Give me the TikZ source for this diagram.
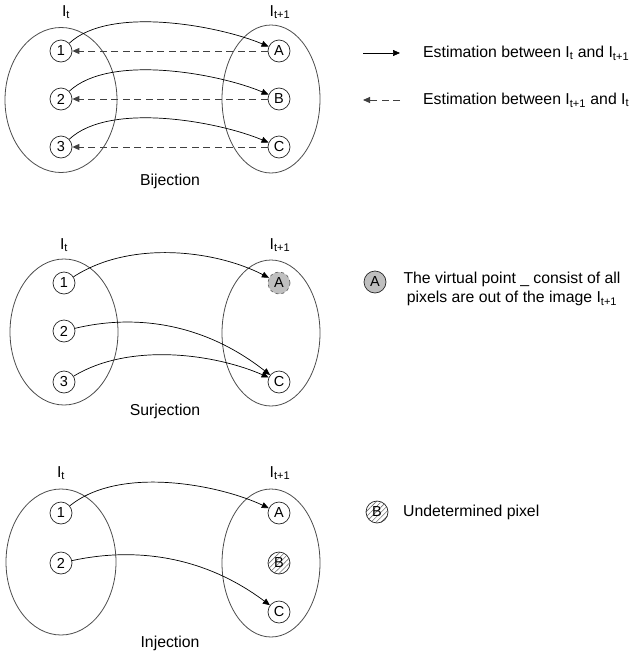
\documentclass[tikz,border=0pt]{standalone}
\usepackage{fontspec}
\setmainfont{Liberation Sans}
\usetikzlibrary{arrows.meta,patterns.meta,shapes.geometric}
\begin{document}
\begin{tikzpicture}[x=1pt,y=-1pt,
  font=\fontsize{15.8}{19}\selectfont,
  setshape/.style={ellipse, draw=black!70, line width=0.8pt, inner sep=0pt},
  pix/.style={circle, draw=black!85, line width=0.7pt, minimum size=22pt, inner sep=0pt, font=\fontsize{14.5}{16}\selectfont},
  fw/.style={draw=black, line width=0.7pt, -{Triangle[length=7pt,width=6pt]}},
  bw/.style={draw=black!75, line width=0.9pt, dash pattern=on 7pt off 4.5pt, -{Triangle[length=7pt,width=6pt]}},
  virt/.style={pix, fill=black!25, dashed, draw=black!60},
  undet/.style={pix, pattern={Lines[angle=45,distance=3.6pt,line width=0.6pt]}, pattern color=black!55}]
\useasboundingbox (0,0) rectangle (633,659);

% ---------- Bijection ----------
\node[setshape, minimum width=112pt, minimum height=145pt] (L1) at (61,100) {};
\node[setshape, minimum width=98pt, minimum height=148pt] (R1) at (271,99) {};
\node (It1) at (66,12) {I\textsubscript{t}};
\node (Itt1) at (280,12) {I\textsubscript{t+1}};
\node[pix] (a1) at (61,51) {1};
\node[pix] (a2) at (61,99) {2};
\node[pix] (a3) at (61,147) {3};
\node[pix] (bA) at (279,51) {A};
\node[pix] (bB) at (279,99) {B};
\node[pix] (bC) at (279,147) {C};
\draw[fw] (a1) .. controls (110,5) and (220,26) .. (bA);
\draw[fw] (a2) .. controls (110,53) and (220,74) .. (bB);
\draw[fw] (a3) .. controls (110,101) and (220,122) .. (bC);
\draw[bw] (bA) -- (a1);
\draw[bw] (bB) -- (a2);
\draw[bw] (bC) -- (a3);
\node (t1) at (170,181) {Bijection};

% legend 1
\coordinate (la1) at (363,53);
\coordinate (lb1) at (400,53);
\draw[fw] (la1) -- (lb1);
\node[anchor=west, inner sep=0pt] (lt1) at (423,53) {Estimation between I\textsubscript{t} and I\textsubscript{t+1}};
\coordinate (la2) at (400,100);
\coordinate (lb2) at (363,100);
\draw[bw] (la2) -- (lb2);
\node[anchor=west, inner sep=0pt] (lt2) at (423,100) {Estimation between I\textsubscript{t+1} and I\textsubscript{t}};

% ---------- Surjection ----------
\node[setshape, minimum width=108pt, minimum height=146pt] (L2) at (64,332) {};
\node[setshape, minimum width=98pt, minimum height=146pt] (R2) at (271,333) {};
\node (It2) at (64,245) {I\textsubscript{t}};
\node (Itt2) at (280,245) {I\textsubscript{t+1}};
\node[pix] (c1) at (64,283) {1};
\node[pix] (c2) at (64,331) {2};
\node[pix] (c3) at (64,382) {3};
\node[virt] (dA) at (279,283) {A};
\node[pix] (dC) at (279,382) {C};
\draw[fw] (c1) .. controls (130,240) and (215,250) .. (dA);
\draw[fw] (c2) .. controls (130,315) and (200,320) .. (dC);
\draw[fw] (c3) .. controls (130,342) and (215,354) .. (dC);
\node (t2) at (165,411) {Surjection};

% legend 2
\node[pix, fill=black!25, draw=black!85] (lgA) at (375,282) {A};
\node[align=center, inner sep=0pt] (lt3) at (512,289) {The virtual point \_ consist of all\\pixels are out of the image I\textsubscript{t+1}};

% ---------- Injection ----------
\node[setshape, minimum width=110pt, minimum height=146pt] (L3) at (61,562) {};
\node[setshape, minimum width=98pt, minimum height=148pt] (R3) at (271,563) {};
\node (It3) at (61,473) {I\textsubscript{t}};
\node (Itt3) at (280,473) {I\textsubscript{t+1}};
\node[pix] (e1) at (61,513) {1};
\node[pix] (e2) at (61,563) {2};
\node[pix] (fA) at (279,513) {A};
\node[undet] (fB) at (279,563) {B};
\node[pix] (fC) at (279,612) {C};
\draw[fw] (e1) .. controls (120,465) and (220,485) .. (fA);
\draw[fw] (e2) .. controls (130,548) and (200,553) .. (fC);
\node (t3) at (170,643) {Injection};

% legend 3
\node[undet] (lgB) at (377,512) {B};
\node[anchor=west, inner sep=0pt] (lt4) at (403,512) {Undetermined pixel};
\end{tikzpicture}
\end{document}
